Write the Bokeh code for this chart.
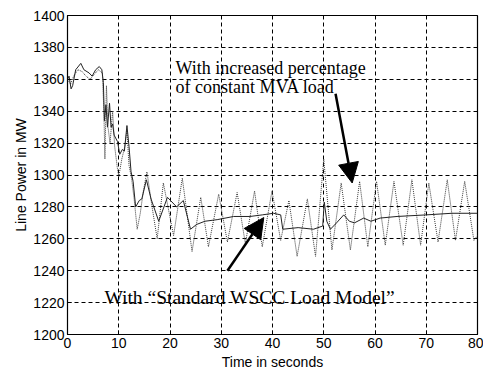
from bokeh.plotting import figure
from bokeh.models import Range1d, Label, Arrow, NormalHead
from bokeh.embed import file_html
from bokeh.resources import INLINE

# Standard WSCC load model (solid)
wscc_t = [0, 0.3, 0.7, 1.0, 1.6, 2.6, 3.2, 4.2, 4.8, 5.5, 6.2, 6.7, 7.0, 7.2, 7.5, 7.8, 8.2, 8.5,
          8.8, 9.1, 9.75, 10.2, 10.7, 11.1, 11.6, 12.0, 12.4, 12.8, 13.3, 14.0, 14.5, 15.4, 16.3,
          17.8, 19.5, 21.3, 22.6, 24.0, 25.2, 26.8, 29.2, 32.4, 35.6, 38.0, 40.2, 41.6, 42.0,
          45.0, 48.0, 49.8, 50.1, 50.6, 51.3, 52.5, 53.9, 55.0, 56.0, 57.8, 59.2, 61.0, 64.3,
          70.0, 75.0, 80.0]
wscc_p = [1360, 1362, 1354, 1356, 1366, 1370, 1366, 1364, 1362, 1366, 1368, 1366, 1358, 1334,
          1344, 1330, 1345, 1330, 1332, 1325, 1321, 1313, 1316, 1315, 1331, 1318, 1302, 1296,
          1280, 1284, 1285, 1297, 1285, 1271, 1286, 1280, 1284, 1266, 1269, 1271, 1272, 1274,
          1274, 1275, 1276, 1275, 1266, 1267, 1266, 1268, 1283, 1271, 1266, 1270, 1275, 1271,
          1270, 1273, 1271, 1273, 1274, 1275, 1276, 1276]

# Increased percentage of constant MVA load (dotted)
mva_t = [0, 0.6, 1.2, 2.0, 2.8, 3.6, 4.4, 5.2, 6.0, 6.8, 7.1, 7.3, 7.6, 7.9, 8.3, 8.8, 9.2, 9.7,
         10.0, 10.6, 11.2, 11.6, 12.0, 12.5, 13.0, 13.6, 14.2, 14.8, 15.5, 16.5, 17.5, 18.7,
         20.7, 22.4, 24.3, 26.0, 27.5, 29.5, 31.2, 33.1, 34.7, 36.5, 38.0, 39.9, 41.6, 43.2,
         44.8, 46.8, 48.4, 50.0, 51.6, 53.4, 55.2, 57.0, 58.6, 60.3, 62.0, 63.7, 65.5, 67.2,
         68.9, 70.5, 72.3, 74.1, 75.7, 77.5, 79.3, 80.0]
mva_p = [1360, 1357, 1362, 1366, 1365, 1362, 1360, 1363, 1366, 1364, 1340, 1310, 1356, 1330,
         1320, 1340, 1318, 1305, 1299, 1310, 1318, 1328, 1306, 1298, 1285, 1266, 1276, 1290,
         1302, 1280, 1260, 1295, 1262, 1298, 1252, 1286, 1255, 1288, 1258, 1289, 1257, 1290,
         1255, 1290, 1259, 1284, 1249, 1285, 1249, 1310, 1253, 1295, 1253, 1296, 1255, 1296,
         1256, 1296, 1256, 1297, 1256, 1295, 1258, 1297, 1259, 1296, 1259, 1262]

x_ticks = [0, 10, 20, 30, 40, 50, 60, 70, 80]
y_ticks = [1200, 1220, 1240, 1260, 1280, 1300, 1320, 1340, 1360, 1380, 1400]

# annotation anchors (data units)
note1_lines = ["With increased percentage", "of constant MVA load"]
note1_pos = [(21.07, 1367.0), (21.07, 1355.0)]
note2_text = "With \u201cStandard WSCC Load Model\u201d"
note2_pos = (7.2, 1223.0)
arrow1 = (52.3, 1351.0, 55.55, 1295.0)
arrow2 = (31.2, 1240.0, 38.3, 1273.3)

p = figure(width=483, height=372, output_backend="svg", toolbar_location=None,
           x_range=Range1d(0, 80), y_range=Range1d(1200, 1400))
p.min_border_left = 67
p.min_border_right = 6
p.min_border_top = 15
p.min_border_bottom = 36
p.background_fill_color = "white"
p.border_fill_color = "white"
p.outline_line_color = "black"
p.outline_line_width = 1.2
p.outline_line_alpha = 1

p.line(mva_t, mva_p, line_color="#3a3a3a", line_width=1, line_dash="1 1")
p.line(wscc_t, wscc_p, line_color="#222222", line_width=1)

p.xaxis.ticker = x_ticks
p.yaxis.ticker = y_ticks
for ax in (p.xaxis[0], p.yaxis[0]):
    ax.major_tick_in = 4
    ax.major_tick_out = 0
    ax.minor_tick_in = 0
    ax.minor_tick_out = 0
    ax.axis_line_color = "black"
    ax.major_tick_line_color = "black"
    ax.major_label_text_font = "Liberation Sans"
    ax.major_label_text_font_size = "14px"
    ax.major_label_text_color = "black"
    ax.axis_label_text_font = "Liberation Sans"
    ax.axis_label_text_font_size = "14px"
    ax.axis_label_text_font_style = "normal"
    ax.axis_label_text_color = "black"
p.xaxis.axis_label = "Time in seconds"
p.yaxis.axis_label = "Line Power in MW"
p.xaxis.major_label_standoff = 3
p.xaxis.axis_label_standoff = 3
p.yaxis.major_label_standoff = 3
p.yaxis.axis_label_standoff = 1

for g in (p.xgrid[0], p.ygrid[0]):
    g.grid_line_color = "black"
    g.grid_line_dash = "4 3"
    g.grid_line_width = 1
    g.grid_line_alpha = 1

for txt, (lx, ly) in zip(note1_lines, note1_pos):
    p.add_layout(Label(x=lx, y=ly, text=txt, text_font="Liberation Serif",
                       text_font_size="18px", text_color="black", text_baseline="alphabetic"))
p.add_layout(Label(x=note2_pos[0], y=note2_pos[1], text=note2_text, text_font="Liberation Serif",
                   text_font_size="19.5px", text_color="black", text_baseline="alphabetic"))

for (xs, ys, xe, ye) in (arrow1, arrow2):
    p.add_layout(Arrow(end=NormalHead(size=20, fill_color="black", line_color="black"),
                       x_start=xs, y_start=ys, x_end=xe, y_end=ye,
                       line_color="black", line_width=2.5))

open("out.html", "w").write(file_html(p, INLINE))
